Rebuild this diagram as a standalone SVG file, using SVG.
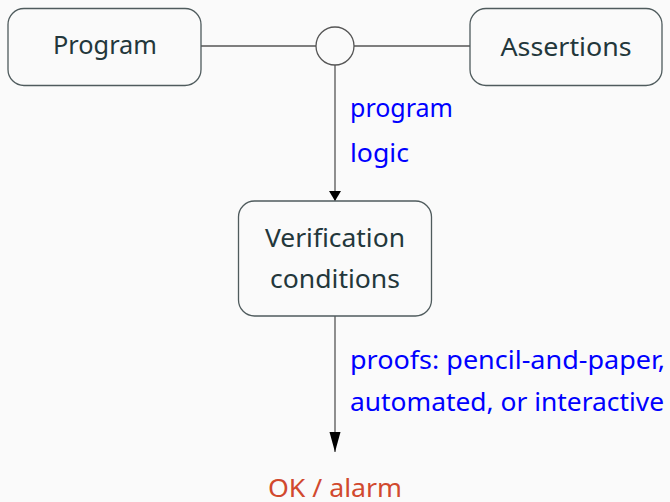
<svg xmlns="http://www.w3.org/2000/svg" width="670" height="502" viewBox="0 0 670 502">
  <defs>
    <marker id="arrow" viewBox="0 0 10 20" refX="10" refY="10" markerWidth="10" markerHeight="20" markerUnits="userSpaceOnUse" orient="auto">
      <path d="M0,4 L10,10 L0,16 Z" fill="#000"/>
    </marker>
    <marker id="arrow-lg" viewBox="0 0 20 12" refX="20" refY="6" markerWidth="20" markerHeight="12" markerUnits="userSpaceOnUse" orient="auto">
      <path d="M0,0.5 L20,6 L0,11.5 Z" fill="#000"/>
    </marker>
  </defs>
  <style>
    .box { fill: none; stroke: #4f5b5d; stroke-width: 1.3; }
    .edge { fill: none; stroke: #555; stroke-width: 1.3; }
    .node-text { font-family: "Noto Sans", "Open Sans", sans-serif; font-size: 25px; fill: #23373b; text-anchor: middle; }
    .edge-label { font-family: "Noto Sans", "Open Sans", sans-serif; font-size: 24.5px; fill: #0000ff; }
    .result { font-family: "Noto Sans", "Open Sans", sans-serif; font-size: 24.5px; fill: #d1492e; }
  </style>
  <rect width="670" height="502" fill="#fafafa"/>

  <g id="connectors">
    <line class="edge" x1="201" y1="46" x2="316" y2="46"/>
    <line class="edge" x1="354" y1="46" x2="470" y2="46"/>
    <line class="edge" x1="335" y1="65" x2="335" y2="201" marker-end="url(#arrow)"/>
    <line class="edge" x1="335" y1="316" x2="335" y2="452" marker-end="url(#arrow-lg)"/>
    <text class="edge-label" x="350" y="117" textLength="103" lengthAdjust="spacingAndGlyphs">program</text>
    <text class="edge-label" x="350" y="162" textLength="59" lengthAdjust="spacingAndGlyphs">logic</text>
    <text class="edge-label" x="350" y="369" textLength="315" lengthAdjust="spacingAndGlyphs">proofs: pencil-and-paper,</text>
    <text class="edge-label" x="350" y="411" textLength="314" lengthAdjust="spacingAndGlyphs">automated, or interactive</text>
  </g>

  <g id="program">
    <rect class="box" x="8" y="8.5" width="193" height="77" rx="16"/>
    <text class="node-text" x="105" y="54" textLength="104" lengthAdjust="spacingAndGlyphs">Program</text>
  </g>

  <g id="join">
    <circle class="edge" cx="335" cy="46" r="19"/>
  </g>

  <g id="assertions">
    <rect class="box" x="470" y="8.5" width="192" height="77" rx="16"/>
    <text class="node-text" x="566" y="56" textLength="131" lengthAdjust="spacingAndGlyphs">Assertions</text>
  </g>

  <g id="verification-conditions">
    <rect class="box" x="238.5" y="201" width="193" height="115" rx="16"/>
    <text class="node-text" x="335" y="247" textLength="140" lengthAdjust="spacingAndGlyphs">Verification</text>
    <text class="node-text" x="335" y="288" textLength="130" lengthAdjust="spacingAndGlyphs">conditions</text>
  </g>

  <g id="outcome">
    <text class="result" x="268" y="497" textLength="134" lengthAdjust="spacingAndGlyphs">OK / alarm</text>
  </g>
</svg>
